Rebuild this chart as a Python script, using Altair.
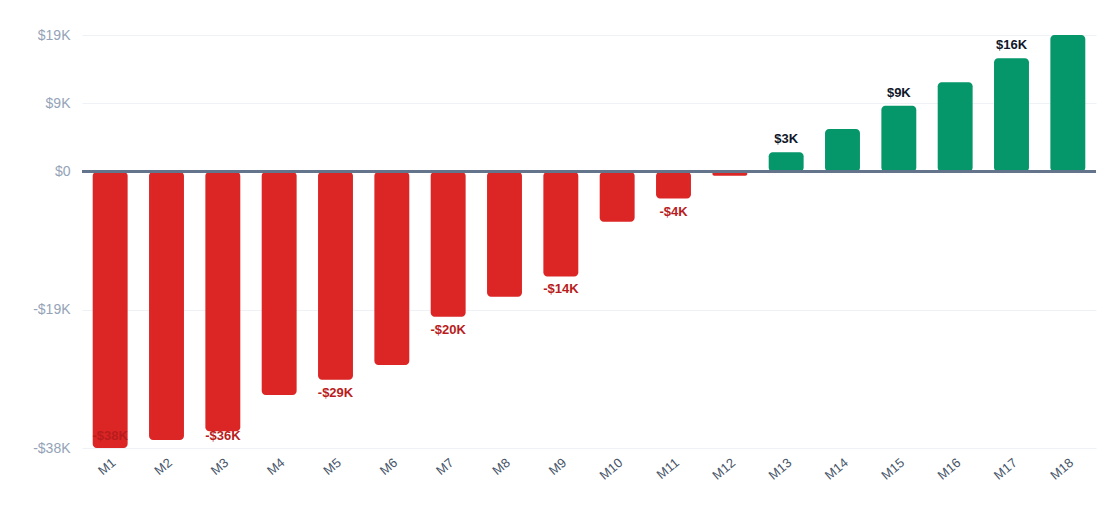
import altair as alt
import pandas as pd

months = [f"M{i}" for i in range(1, 19)]
values = [-38000, -36900, -35700, -30700, -28600, -26600, -19960, -17200, -14400,
          -6900, -3700, -550, 2660, 5860, 9070, 12300, 15600, 18800]

df = pd.DataFrame({"month": months, "value": values, "idx": list(range(len(months)))})

vmin, vmax = min(values), max(values)
tick_vals = [vmin, vmin / 2, 0, vmax / 2, vmax]

FONT = "Liberation Sans"

x_enc = alt.X("month:N", sort=months, title=None,
              scale=alt.Scale(paddingInner=0.38, paddingOuter=0.19),
              axis=alt.Axis(labelAngle=-40, labelColor="#475569", labelFontSize=13,
                            labelFont=FONT, ticks=False, domain=False, grid=False,
                            labelPadding=8))
y_scale = alt.Scale(domain=[vmin, vmax], nice=False, zero=True)

bars = alt.Chart(df).mark_bar(cornerRadius=4).encode(
    x=x_enc,
    y=alt.Y("value:Q", scale=y_scale, title=None,
            axis=alt.Axis(values=tick_vals, labelColor="#94a3b8", labelFontSize=14,
                          labelFont=FONT, ticks=False, domain=False, labelPadding=12,
                          gridColor="#eef1f6", gridWidth=1,
                          labelExpr="datum.value == 0 ? '$0' : (datum.value < 0 ? '-' : '') + '$' + format(abs(datum.value)/1000, '.0f') + 'K'")),
    y2=alt.datum(0),
    color=alt.condition("datum.value < 0", alt.value("#dc2626"), alt.value("#059669")),
)

zero = alt.Chart(df).mark_rule(color="#64748b", strokeWidth=2).encode(y=alt.datum(0))

lab = alt.Chart(df).transform_filter("datum.idx % 2 == 0").transform_calculate(
    txt="(datum.value < 0 ? '-' : '') + '$' + format(abs(datum.value)/1000, '.0f') + 'K'",
    pos=f"max(datum.value, {vmin * 0.908})",
)

neg_labels = lab.transform_filter("datum.value < 0").mark_text(
    baseline="top", dy=7, fontSize=13, fontWeight="bold", font=FONT, color="#b91c1c"
).encode(x=alt.X("month:N", sort=months), y=alt.Y("pos:Q", scale=y_scale), text="txt:N")

pos_labels = lab.transform_filter("datum.value >= 0").mark_text(
    baseline="bottom", dy=-6, fontSize=13, fontWeight="bold", font=FONT, color="#0f172a"
).encode(x=alt.X("month:N", sort=months), y=alt.Y("value:Q", scale=y_scale), text="txt:N")

chart = alt.layer(bars, zero, neg_labels, pos_labels).properties(
    width=1014, height=413,
    autosize=alt.AutoSizeParams(type="none"),
    padding={"left": 74, "top": 27, "right": 16, "bottom": 75},
).configure_view(stroke=None)

chart.save("out.html", embed_options={"renderer": "svg", "actions": False})
